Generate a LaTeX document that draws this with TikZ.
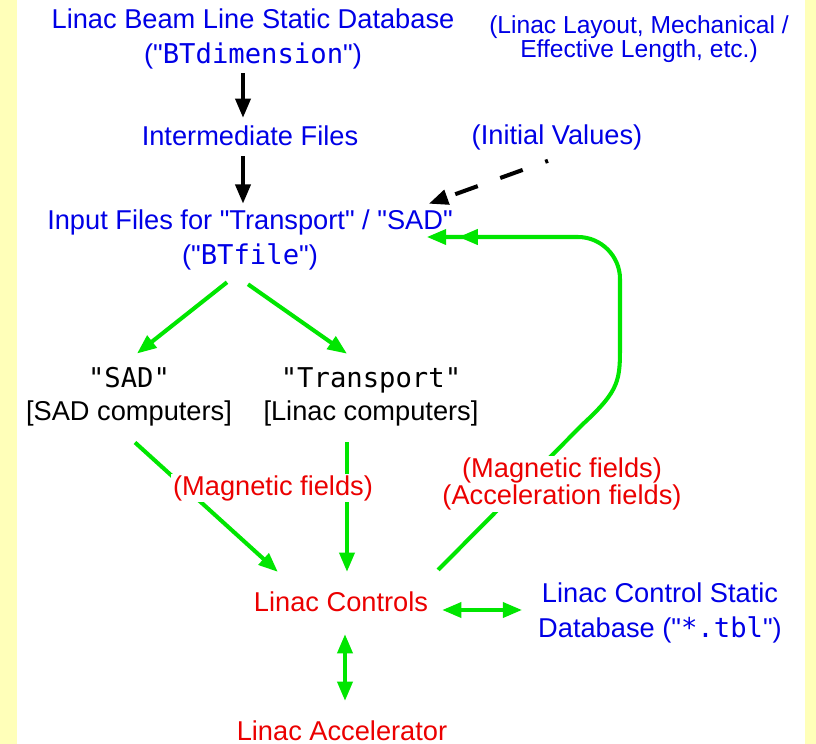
\documentclass[tikz,border=0pt]{standalone}
\usepackage{fontspec}
\setmainfont{Liberation Sans}[Ligatures=TeXOff]
\setmonofont{DejaVu Sans Mono}
\usepackage{tikz}
\usetikzlibrary{arrows.meta}

\definecolor{tblue}{RGB}{0,0,230}
\definecolor{tred}{RGB}{235,0,0}
\definecolor{lgreen}{RGB}{0,230,0}
\definecolor{stripe}{RGB}{255,255,185}

\tikzset{
  txt/.style={align=center, inner sep=1pt, font=\fontsize{15.5}{19.9}\selectfont},
  blk/.style={line width=2.3pt, -{Triangle[length=11pt,width=8.5pt]}},
  grn/.style={draw=lgreen, line width=2.3pt, -{Triangle[length=11pt,width=8.5pt]}},
  gdbl/.style={draw=lgreen, line width=2.3pt, {Triangle[length=11pt,width=8.5pt]}-{Triangle[length=11pt,width=8.5pt]}},
  gtwo/.style={draw=lgreen, line width=2.3pt, -{Triangle[length=11pt,width=8.5pt,sep=7pt]Triangle[length=11pt,width=8.5pt]}},
  dsh/.style={line width=2.3pt, dash pattern=on 13.6pt off 13.6pt, dash phase=11.9pt, -{Triangle[length=11pt,width=8.5pt]}}
}

\begin{document}
\begin{tikzpicture}[x=0.02cm, y=-0.02cm]
  \useasboundingbox (0,0) rectangle (816,744);
  \fill[white] (0,0) rectangle (816,744);
  \fill[stripe] (0,0) rectangle (17,744);
  \fill[stripe] (805,0) rectangle (816,744);

  % static database and its note
  \node[txt, text=tblue] (db) at (253,39) {Linac Beam Line Static Database\\("\texttt{BTdimension}")};
  \node[txt, text=tblue, font=\fontsize{14}{13.3}\selectfont] (note) at (639,39) {(Linac Layout, Mechanical /\\Effective Length, etc.)};
  \node[txt, text=tblue] (inter) at (250,136) {Intermediate Files};
  \node[txt, text=tblue] (init) at (557,137) {(Initial Values)};
  \node[txt, text=tblue] (input) at (250,240) {Input Files for "Transport" / "SAD"\\("\texttt{BTfile}")};

  % simulation codes
  \node[txt, font=\fontsize{15.5}{18.7}\selectfont] (sad) at (129,397) {\texttt{"SAD"}\\{[}SAD computers]};
  \node[txt, font=\fontsize{15.5}{18.7}\selectfont] (trans) at (371,397) {\texttt{"Transport"}\\{[}Linac computers]};

  % controls
  \node[txt, text=tred] (ctrl) at (341,602) {Linac Controls};
  \node[txt, text=tblue] (cdb) at (660,613) {Linac Control Static\\Database ("\texttt{*.tbl}")};
  \node[txt, text=tred] (acc) at (342,731) {Linac Accelerator};

  \draw[blk] ([shift={(-10,2)}]db.south) -- ([shift={(-7,-6)}]inter.north);
  \draw[blk] ([shift={(-7,8)}]inter.south) -- ([shift={(-7,-4)}]input.north);
  \draw[dsh] ([shift={(-9,9)}]init.south) -- ([shift={(-26,-4)}]input.north east);

  \draw[grn] ([shift={(-23,10)}]input.south) -- ([shift={(8,-12)}]sad.north);
  \draw[grn] ([shift={(-2,12)}]input.south) -- ([shift={(-24,-12)}]trans.north);

  \draw[grn] ([shift={(6,14)}]sad.south) -- ([shift={(26,-18)}]ctrl.north west);
  \draw[grn] ([shift={(-24,14)}]trans.south) -- ([shift={(6,-18)}]ctrl.north);
  \draw[gtwo] ([shift={(8,-20)}]ctrl.north east) -- (583,424)
    .. controls (620,390) and (620,380) .. (620,345) -- (620,279)
    .. controls (620,256) and (601,237) .. (578,237) -- ([shift={(-28,-3)}]input.east);

  \draw[gdbl] ([shift={(12,8)}]ctrl.east) -- ([shift={(-14,-3)}]cdb.west);
  \draw[gdbl] ([shift={(4,20)}]ctrl.south) -- ([shift={(3,-18)}]acc.north);

  % labels over the lines
  \node[txt, text=tred, fill=white] (mag) at (273,488) {(Magnetic fields)};
  \node[txt, text=tred, fill=white, font=\fontsize{15.5}{15.3}\selectfont] (magacc) at (562,484) {(Magnetic fields)\\(Acceleration fields)};
\end{tikzpicture}
\end{document}
